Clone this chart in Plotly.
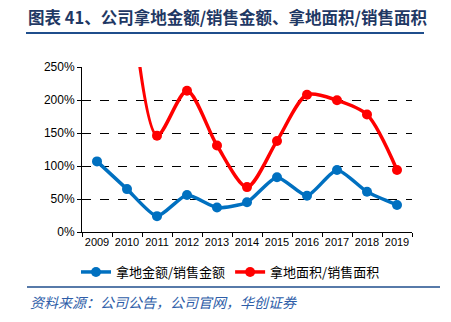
import plotly.graph_objects as go

years = ["2009", "2010", "2011", "2012", "2013", "2014", "2015", "2016", "2017", "2018", "2019"]
amount_ratio = [1.07, 0.65, 0.24, 0.56, 0.37, 0.45, 0.83, 0.55, 0.94, 0.61, 0.41]
area_ratio = [None, 4.2, 1.46, 2.14, 1.31, 0.68, 1.38, 2.08, 1.995, 1.78, 0.94]
y_ticks = [0, 0.5, 1.0, 1.5, 2.0, 2.5]
y_labels = ["0%", "50%", "100%", "150%", "200%", "250%"]

title_text = "图表 41、公司拿地金额/销售金额、拿地面积/销售面积"
source_text = "资料来源：公司公告，公司官网，华创证券"

fig = go.Figure()
fig.add_trace(go.Scatter(
    x=years, y=amount_ratio, name="拿地金额/销售金额",
    mode="lines+markers", line=dict(color="#0070C0", width=3.5, shape="spline", smoothing=0.6),
    marker=dict(size=10, color="#0070C0"),
))
fig.add_trace(go.Scatter(
    x=years, y=area_ratio, name="拿地面积/销售面积",
    mode="lines+markers", line=dict(color="#FF0000", width=3.5, shape="spline", smoothing=0.8),
    marker=dict(size=10, color="#FF0000"), cliponaxis=True, connectgaps=False,
))

fig.update_layout(
    width=451, height=322,
    margin=dict(l=82, r=39, t=67, b=90),
    paper_bgcolor="white", plot_bgcolor="white",
    font=dict(family="Liberation Sans, Arial, sans-serif", size=12, color="#000"),
    showlegend=True,
    legend=dict(orientation="h", x=0.45, xanchor="center", y=-(272-232)/165, yanchor="middle",
                bgcolor="rgba(0,0,0,0)",
                font=dict(family="Noto Sans CJK SC", size=13, color="#000"),
                itemwidth=30, tracegroupgap=0, traceorder="normal"),
    xaxis=dict(type="category", showgrid=False, showline=True, linecolor="#000", linewidth=1,
               ticks="outside", tickson="boundaries", ticklen=4, tickcolor="#000",
               tickfont=dict(size=11), tickangle=0, range=[-0.5, 10.5]),
    yaxis=dict(range=[0, 2.5], tickvals=y_ticks, ticktext=y_labels,
               showgrid=True, gridcolor="#000", griddash="dash", gridwidth=1,
               showline=True, linecolor="#000", linewidth=1, ticks="outside", ticklen=4,
               tickcolor="#000", tickfont=dict(size=12), zeroline=False),
    shapes=[
        dict(type="line", xref="paper", yref="paper", x0=-56/330, x1=(330+12)/330,
             y0=1 + (67-33)/165, y1=1 + (67-33)/165, line=dict(color="#1F4E8C", width=2)),
        dict(type="line", xref="paper", yref="paper", x0=-55/330, x1=(330+28)/330,
             y0=-(287-232)/165, y1=-(287-232)/165, line=dict(color="#1F4E8C", width=1.5)),
    ],
    annotations=[
        dict(text="<b>" + title_text + "</b>", xref="paper", yref="paper",
             x=-56/330, y=1 + (67-17)/165, xanchor="left", yanchor="middle", showarrow=False,
             font=dict(family="Noto Sans CJK SC", size=16.5, color="#1F3864")),
        dict(text="<i>" + source_text + "</i>", xref="paper", yref="paper",
             x=-54/330, y=-(302-232)/165, xanchor="left", yanchor="middle", showarrow=False,
             font=dict(family="Noto Sans CJK SC", size=14, color="#2E5DA8")),
    ],
)

fig.write_html("out.html")
